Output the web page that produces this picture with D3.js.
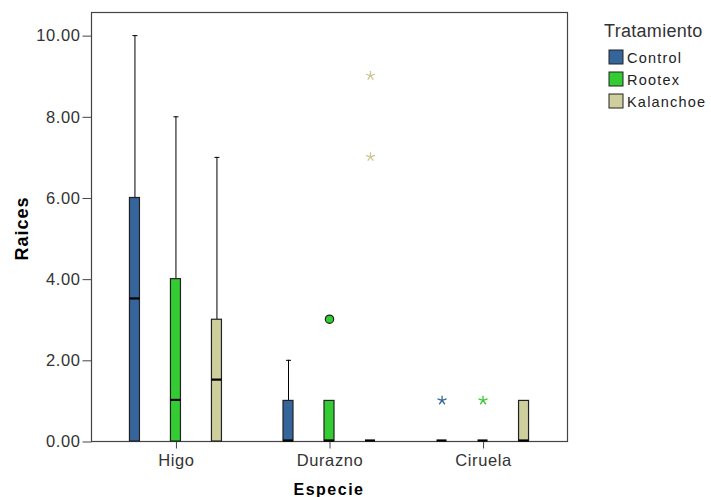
<!DOCTYPE html>
<html>
<head>
<meta charset="utf-8">
<script src="https://cdn.jsdelivr.net/npm/d3@7"></script>
<style>
  body { margin: 0; background: #fff; }
  text { font-family: "Liberation Sans", Arial, sans-serif; }
</style>
</head>
<body>
<script>
const W = 711;
const H = 497;

// data
const especies = ["Higo", "Durazno", "Ciruela"];
const tratamientos = ["Control", "Rootex", "Kalanchoe"];
const colores = ["#35659a", "#33cc33", "#cfcf9d"];
// [especie, tratamiento, min, q1, median, q3, max]
const cajas = [
  ["Higo", "Control", 0, 0, 3.5, 6, 10],
  ["Higo", "Rootex", 0, 0, 1, 4, 8],
  ["Higo", "Kalanchoe", 0, 0, 1.5, 3, 7],
  ["Durazno", "Control", 0, 0, 0, 1, 2],
  ["Durazno", "Rootex", 0, 0, 0, 1, 1],
  ["Durazno", "Kalanchoe", 0, 0, 0, 0, 0],
  ["Ciruela", "Control", 0, 0, 0, 0, 0],
  ["Ciruela", "Rootex", 0, 0, 0, 0, 0],
  ["Ciruela", "Kalanchoe", 0, 0, 0, 1, 1]
];
// outliers (circle) and extremes (star)
const atipicos = [
  ["Durazno", "Rootex", 3, "circle"],
  ["Durazno", "Kalanchoe", 7, "star"],
  ["Durazno", "Kalanchoe", 9, "star"],
  ["Ciruela", "Control", 1, "star"],
  ["Ciruela", "Rootex", 1, "star"]
];
const yTicks = [0, 2, 4, 6, 8, 10];

const pLeft = 91, pRight = 567, pTop = 12, pBottom = 441;

const svg = d3.select("body").append("svg")
  .attr("width", W)
  .attr("height", H);

const x = d3.scalePoint()
  .domain(especies)
  .range([pLeft, pRight])
  .padding(0.55);

const xSub = d3.scalePoint()
  .domain(tratamientos)
  .range([-41, 41]);

const y = d3.scaleLinear()
  .domain([0, 10.57])
  .range([pBottom, pTop]);

const color = d3.scaleOrdinal().domain(tratamientos).range(colores);

const boxW = 10;

// frame
svg.append("rect")
  .attr("x", pLeft + 0.5)
  .attr("y", pTop + 0.5)
  .attr("width", pRight - pLeft)
  .attr("height", pBottom - pTop)
  .attr("fill", "none")
  .attr("stroke", "#444")
  .attr("stroke-width", 1.2);

const yAxis = d3.axisLeft(y).tickValues(yTicks).tickFormat(d3.format(".2f"))
  .tickSize(9).tickPadding(2);

svg.append("g")
  .attr("transform", `translate(${pLeft + 0.5},0.5)`)
  .call(yAxis)
  .call(g => g.select(".domain").remove())
  .call(g => g.selectAll("line").attr("stroke", "#444"))
  .call(g => g.selectAll("text").attr("fill", "#333")
    .style("font-size", "16.5px").style("letter-spacing", "0.6px"));

const xAxis = d3.axisBottom(x).tickSize(7).tickPadding(6);

svg.append("g")
  .attr("transform", `translate(0.5,${pBottom + 0.5})`)
  .call(xAxis)
  .call(g => g.select(".domain").remove())
  .call(g => g.selectAll("line").attr("stroke", "#444"))
  .call(g => g.selectAll("text").attr("fill", "#333")
    .style("font-size", "16.5px").style("letter-spacing", "0.6px"));

const cx = d => x(d[0]) + xSub(d[1]);

// whiskers
const box = svg.append("g").selectAll("g")
  .data(cajas)
  .join("g");

box.filter(d => d[6] > d[5])
  .append("line")
  .attr("x1", d => cx(d) + 0.5).attr("x2", d => cx(d) + 0.5)
  .attr("y1", d => y(d[5])).attr("y2", d => y(d[6]))
  .attr("stroke", "#000");

box.filter(d => d[6] > d[5])
  .append("line")
  .attr("x1", d => cx(d) - 2).attr("x2", d => cx(d) + 3)
  .attr("y1", d => y(d[6]) + 0.5).attr("y2", d => y(d[6]) + 0.5)
  .attr("stroke", "#000");

box.append("rect")
  .attr("x", d => cx(d) - boxW / 2)
  .attr("y", d => y(d[5]))
  .attr("width", boxW)
  .attr("height", d => y(d[3]) - y(d[5]))
  .attr("fill", d => color(d[1]))
  .attr("stroke", "#222")
  .attr("stroke-width", 1.2);

box.append("line")
  .attr("x1", d => cx(d) - boxW / 2).attr("x2", d => cx(d) + boxW / 2)
  .attr("y1", d => y(d[4]) - 0.5).attr("y2", d => y(d[4]) - 0.5)
  .attr("stroke", "#000")
  .attr("stroke-width", 2.2);

// custom 5-arm asterisk
const asterisk = {
  draw(ctx, size) {
    const r = Math.sqrt(size) / 2;
    for (let i = 0; i < 5; i++) {
      const a = -Math.PI / 2 + i * 2 * Math.PI / 5;
      ctx.moveTo(0, 0);
      ctx.lineTo(r * Math.cos(a), r * Math.sin(a));
    }
  }
};

const pts = svg.append("g").selectAll("path")
  .data(atipicos)
  .join("path")
  .attr("transform", d => `translate(${cx(d) + 0.5},${y(d[2])})`);

pts.filter(d => d[3] === "circle")
  .attr("d", d3.symbol(d3.symbolCircle, 55))
  .attr("fill", d => color(d[1]))
  .attr("stroke", "#222")
  .attr("stroke-width", 1.2);

pts.filter(d => d[3] === "star")
  .attr("d", d3.symbol(asterisk, 90))
  .attr("fill", "none")
  .attr("stroke", d => d[1] === "Kalanchoe" ? "#c8c890" : color(d[1]))
  .attr("stroke-width", 1.3);

// axis titles
svg.append("text")
  .text("Raices")
  .attr("transform", `translate(28,${(pTop + pBottom) / 2 + 2}) rotate(-90)`)
  .attr("text-anchor", "middle")
  .attr("font-weight", "bold")
  .style("font-size", "18px")
  .style("letter-spacing", "1px");

svg.append("text")
  .text("Especie")
  .attr("x", (pLeft + pRight) / 2)
  .attr("y", 495)
  .attr("text-anchor", "middle")
  .attr("font-weight", "bold")
  .style("font-size", "16px")
  .style("letter-spacing", "1.5px");

// legend
const legend = svg.append("g");

legend.append("text")
  .text("Tratamiento")
  .attr("x", 604)
  .attr("y", 37)
  .attr("fill", "#333")
  .style("font-size", "18px")
  .style("letter-spacing", "0.3px");

const item = legend.selectAll("g")
  .data(tratamientos)
  .join("g")
  .attr("transform", (d, i) => `translate(609,${50 + i * 22})`);

item.append("rect")
  .attr("width", 14)
  .attr("height", 14)
  .attr("fill", d => color(d))
  .attr("stroke", "#222");

item.append("text")
  .text(d => d)
  .attr("x", 18)
  .attr("y", 13)
  .attr("fill", "#222")
  .style("font-size", "14.5px")
  .style("letter-spacing", "1.2px");
</script>
</body>
</html>
